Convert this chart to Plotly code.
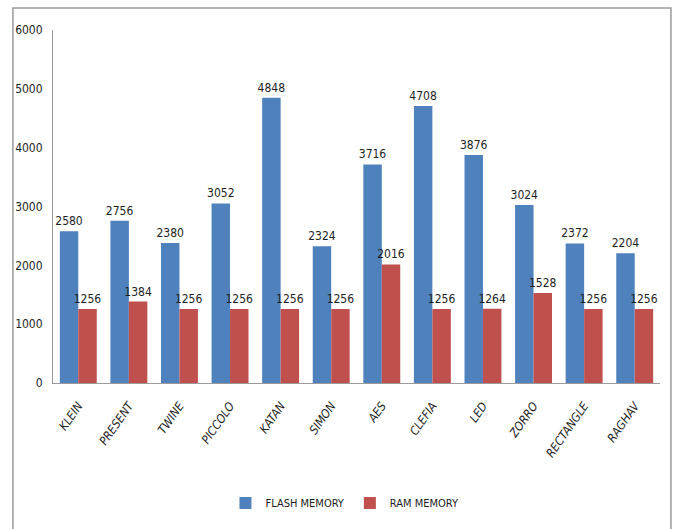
import plotly.graph_objects as go

ciphers = ["KLEIN", "PRESENT", "TWINE", "PICCOLO", "KATAN", "SIMON",
           "AES", "CLEFIA", "LED", "ZORRO", "RECTANGLE", "RAGHAV"]
flash_memory = [2580, 2756, 2380, 3052, 4848, 2324, 3716, 4708, 3876, 3024, 2372, 2204]
ram_memory = [1256, 1384, 1256, 1256, 1256, 1256, 2016, 1256, 1264, 1528, 1256, 1256]
y_ticks = [0, 1000, 2000, 3000, 4000, 5000, 6000]

FONT = "DejaVu Sans Condensed, Liberation Sans Narrow, Liberation Sans, sans-serif"
TXT = "#1e1e1e"

fig = go.Figure()
fig.add_trace(go.Bar(
    x=ciphers, y=flash_memory, name="FLASH MEMORY",
    marker=dict(color="#4F81BD", line=dict(width=0)),
    text=flash_memory, textposition="outside",
    textfont=dict(family=FONT, size=12, color=TXT),
    cliponaxis=False,
))
fig.add_trace(go.Bar(
    x=ciphers, y=ram_memory, name="RAM MEMORY",
    marker=dict(color="#C0504D", line=dict(width=0)),
    text=ram_memory, textposition="outside",
    textfont=dict(family=FONT, size=12, color=TXT),
    cliponaxis=False,
))

# outer frame around the whole chart
fig.add_shape(type="rect", xref="paper", yref="paper",
              x0=-0.066, x1=1.018, y0=-0.45, y1=1.062,
              line=dict(color="#9a9a9a", width=1.5), fillcolor="rgba(0,0,0,0)",
              layer="below")

fig.update_layout(
    width=678, height=529,
    margin=dict(l=53, r=18, t=30, b=146),
    paper_bgcolor="white", plot_bgcolor="white",
    barmode="group", bargap=0.27, bargroupgap=0,
    font=dict(family=FONT, size=12, color=TXT),
    uniformtext=dict(minsize=12, mode="show"),
    legend=dict(orientation="h", x=0.481, xanchor="center",
                y=-0.34, yanchor="middle",
                font=dict(family=FONT, size=11, color=TXT),
                itemwidth=30, traceorder="normal"),
    showlegend=True,
)
fig.update_xaxes(
    tickangle=-55, showline=True, linecolor="#9a9a9a", linewidth=1,
    showgrid=False, ticks="outside", ticklen=10, tickcolor="rgba(0,0,0,0)",
    tickfont=dict(family=FONT, size=12, color=TXT),
    tickvals=ciphers,
    ticktext=[f"<i>{c}</i>" for c in ciphers],
)
fig.update_yaxes(
    range=[0, 6000], tickvals=y_ticks, showline=True, linecolor="#9a9a9a",
    linewidth=1, showgrid=False, zeroline=False,
    ticks="outside", ticklen=7, tickcolor="rgba(0,0,0,0)",
    tickfont=dict(family=FONT, size=12, color=TXT),
)

fig.write_html("out.html")
